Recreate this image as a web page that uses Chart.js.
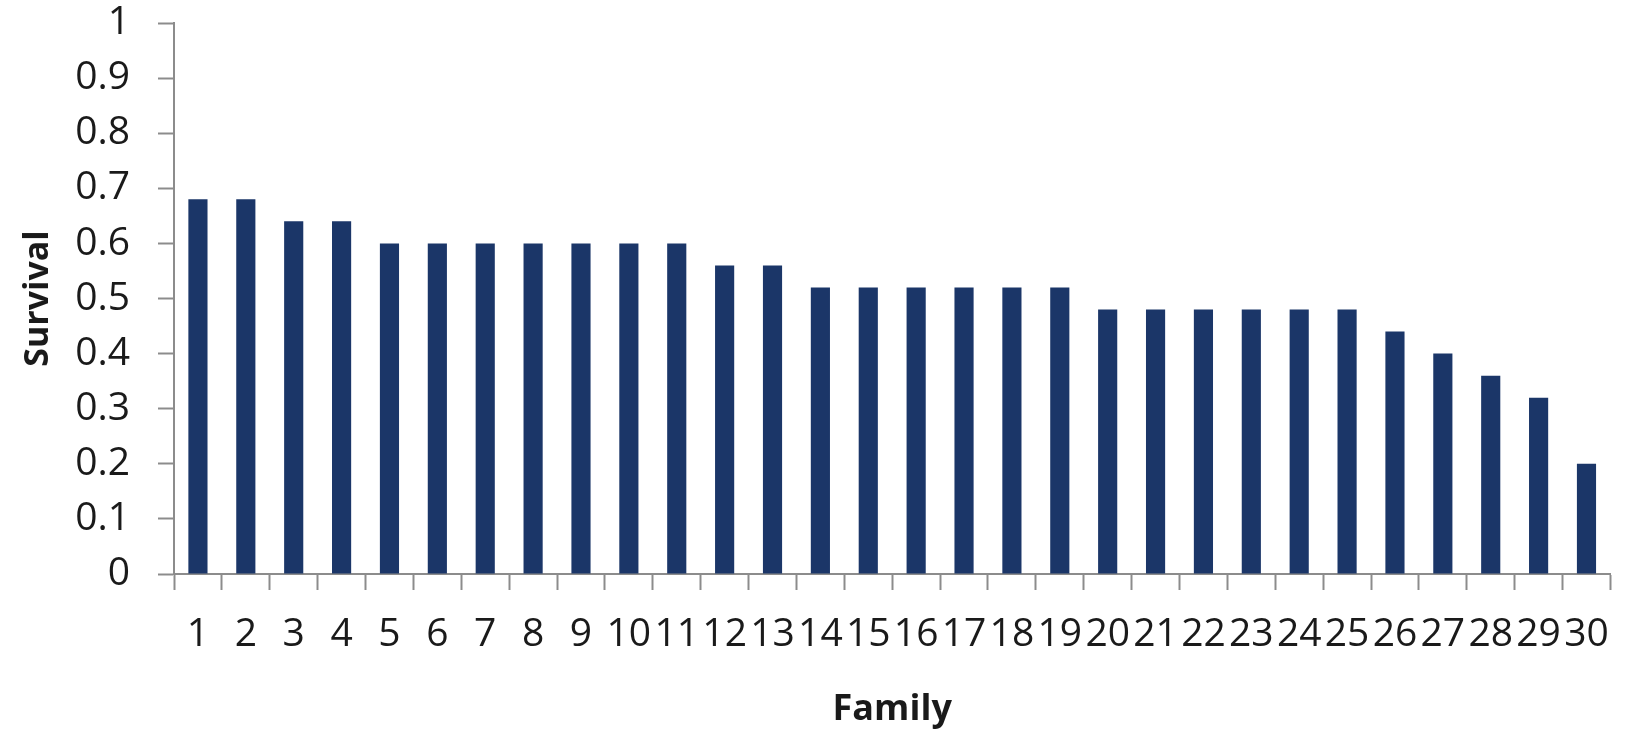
<!DOCTYPE html>
<html>
<head>
<meta charset="utf-8">
<title>Survival by family</title>
<script src="https://cdn.jsdelivr.net/npm/chart.js@4/dist/chart.umd.min.js"></script>
<style>
  html, body { margin: 0; padding: 0; background: #ffffff; }
  #wrap { width: 1630px; height: 731px; position: relative; }
</style>
</head>
<body>
<div id="wrap"><canvas id="chart" width="1630" height="731"></canvas></div>
<script>
// Family numbers along the x axis
const families = ['1','2','3','4','5','6','7','8','9','10','11','12','13','14','15',
                  '16','17','18','19','20','21','22','23','24','25','26','27','28','29','30'];
// Survival proportion per family
const survival = [0.68, 0.68, 0.64, 0.64, 0.60, 0.60, 0.60, 0.60, 0.60, 0.60,
                  0.60, 0.56, 0.56, 0.52, 0.52, 0.52, 0.52, 0.52, 0.52, 0.48,
                  0.48, 0.48, 0.48, 0.48, 0.48, 0.44, 0.40, 0.36, 0.32, 0.20];
// Y axis range and step
const yMin = 0, yMax = 1, yStep = 0.1;

const axisGray = '#8c8c8c';
const textColor = '#1a1a1a';
const fontFamily = '"Open Sans", "Liberation Sans", sans-serif';

new Chart(document.getElementById('chart'), {
  type: 'bar',
  data: {
    labels: families,
    datasets: [{
      label: 'Survival',
      data: survival,
      backgroundColor: '#1b3668',
      borderWidth: 0,
      barPercentage: 0.4,
      categoryPercentage: 1.0
    }]
  },
  options: {
    responsive: false,
    animation: false,
    devicePixelRatio: 1,
    layout: { padding: { top: 0, right: 13, bottom: 0, left: 0 } },
    plugins: {
      legend: { display: false },
      tooltip: { enabled: false }
    },
    scales: {
      x: {
        offset: true,
        grid: {
          display: true,
          offset: true,
          drawOnChartArea: false,
          drawTicks: true,
          tickLength: 16,
          tickWidth: 2,
          tickColor: axisGray
        },
        border: { display: true, color: axisGray, width: 2 },
        ticks: {
          autoSkip: false,
          maxRotation: 0,
          minRotation: 0,
          padding: 21,
          color: textColor,
          font: { family: fontFamily, size: 39 }
        },
        title: {
          display: true,
          text: 'Family',
          color: textColor,
          font: { family: fontFamily, size: 36, weight: 'bold' },
          padding: { top: 0, bottom: 0 }
        },
        afterFit(scale) { scale.height = 157; }
      },
      y: {
        min: yMin,
        max: yMax,
        grid: {
          display: true,
          drawOnChartArea: false,
          drawTicks: true,
          tickLength: 16,
          tickWidth: 2,
          tickColor: axisGray
        },
        border: { display: true, color: axisGray, width: 2 },
        ticks: {
          stepSize: yStep,
          padding: 28,
          color: textColor,
          font: { family: fontFamily, size: 39 },
          callback: (v) => Number(v.toFixed(1)).toString()
        },
        title: {
          display: true,
          text: 'Survival',
          color: textColor,
          font: { family: fontFamily, size: 34, weight: 'bold' },
          padding: { top: 18, bottom: 0 }
        },
        afterFit(scale) {
          // fixed axis width and top room so the plot spans a set area
          scale.width = 174;
          scale.paddingTop = 23;
          scale.paddingBottom = 0;
        }
      }
    }
  }
});
</script>
</body>
</html>
